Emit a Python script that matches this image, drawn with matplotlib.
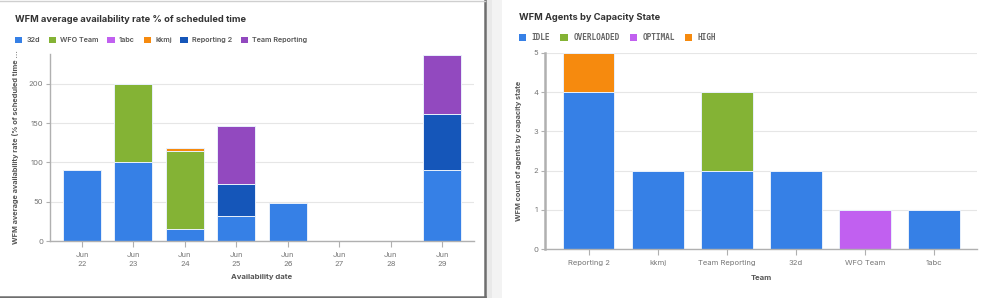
import matplotlib
matplotlib.use("Agg")
import matplotlib.pyplot as plt
import numpy as np
from matplotlib.patches import Rectangle, FancyBboxPatch
from matplotlib.lines import Line2D

plt.rcParams['font.family'] = ['Inter', 'DejaVu Sans']

# ---- Left chart data ----
dates = ["Jun\n22", "Jun\n23", "Jun\n24", "Jun\n25", "Jun\n26", "Jun\n27", "Jun\n28", "Jun\n29"]
series_32d = [90, 100, 15, 32, 49, 0, 0, 91]
series_wfo = [0, 100, 100, 0, 0, 0, 0, 0]
series_1abc = [0, 0, 0, 0, 0, 0, 0, 0]
series_kkmj = [0, 0, 4, 0, 0, 0, 0, 0]
series_rep2 = [0, 0, 0, 40, 0, 0, 0, 71]
series_teamrep = [0, 0, 0, 75, 0, 0, 0, 75]
left_names = ["32d", "WFO Team", "1abc", "kkmj", "Reporting 2", "Team Reporting"]
left_series = [series_32d, series_wfo, series_1abc, series_kkmj, series_rep2, series_teamrep]
left_colors = ["#3680e6", "#84b335", "#c160f0", "#f68a0e", "#1556b9", "#9249bf"]
left_yticks = [0, 50, 100, 150, 200]

# ---- Right chart data ----
teams = ["Reporting 2", "kkmj", "Team Reporting", "32d", "WFO Team", "1abc"]
idle = [4, 2, 2, 2, 0, 1]
overloaded = [0, 0, 2, 0, 0, 0]
optimal = [0, 0, 0, 0, 1, 0]
high = [1, 0, 0, 0, 0, 0]
right_names = ["IDLE", "OVERLOADED", "OPTIMAL", "HIGH"]
right_series = [idle, overloaded, optimal, high]
right_colors = ["#3680e6", "#84b335", "#c160f0", "#f68a0e"]
right_yticks = [0, 1, 2, 3, 4, 5]

W, H = 999, 298
fig = plt.figure(figsize=(W / 100, H / 100), dpi=100)
fig.patch.set_facecolor("white")

# background cards / separator
fig.patches.append(Rectangle((485 / W, 0), 20 / W, 1, transform=fig.transFigure,
                             facecolor="#e9e9e9", edgecolor="none", zorder=-3))
fig.patches.append(Rectangle((492 / W, 0), 10 / W, 1, transform=fig.transFigure,
                             facecolor="#f3f3f3", edgecolor="none", zorder=-3))
fig.patches.append(FancyBboxPatch((502 / W, -0.1), 520 / W, 1.2, transform=fig.transFigure,
                                  boxstyle="round,pad=0,rounding_size=0.01",
                                  facecolor="white", edgecolor="none", zorder=-2))
fig.add_artist(Line2D([484.5 / W, 484.5 / W], [0, 1], color="#6e6e6e", lw=1.8, zorder=1))
fig.add_artist(Line2D([0, 485 / W], [1.5 / H, 1.5 / H], color="#6e6e6e", lw=1.8, zorder=1))
fig.add_artist(Line2D([0, 485 / W], [1 - 0.5 / H, 1 - 0.5 / H], color="#cfcfcf", lw=1.0, zorder=1))

text_dark = "#333333"
text_mid = "#555555"
tick_col = "#777777"
axis_col = "#b0b0b0"
grid_col = "#e6e6e6"


def style_axes(ax, spine_lw):
    ax.set_facecolor("none")
    for s in ["top", "right"]:
        ax.spines[s].set_visible(False)
    ax.spines["left"].set_color(axis_col)
    ax.spines["left"].set_linewidth(spine_lw)
    ax.spines["bottom"].set_color(axis_col)
    ax.spines["bottom"].set_linewidth(1.0)
    ax.yaxis.grid(True, color=grid_col, lw=0.8)
    ax.set_axisbelow(True)
    ax.tick_params(axis="both", colors=axis_col, labelcolor=tick_col, labelsize=5.5,
                   length=3, width=0.8, pad=2)


# ---- Left axes ----
axL = fig.add_axes([50 / W, 1 - 241 / H, 424 / W, 187 / H])
x = np.arange(len(dates))
bottom = np.zeros(len(dates))
for name, vals, col in zip(left_names, left_series, left_colors):
    v = np.array(vals, dtype=float)
    axL.bar(x, v, bottom=bottom, width=0.74, color=col, edgecolor="#e8f0fb",
            linewidth=0.7, label=name)
    bottom += v
axL.set_xlim(-0.62, len(dates) - 1 + 0.62)
axL.set_ylim(0, 238)
axL.set_yticks(left_yticks)
axL.set_xticks(x)
axL.set_xticklabels(dates, linespacing=1.6)
style_axes(axL, 1.0)
axL.tick_params(axis="x", length=4, pad=4)
axL.set_xlabel("Availability date", fontsize=5.6, fontweight="bold", color=text_mid, labelpad=5)
axL.set_ylabel("WFM average availability rate (% of scheduled time ...", fontsize=5.3,
               fontweight="bold", color=text_mid, labelpad=7)

fig.text(15 / W, 1 - 20 / H, "WFM average availability rate % of scheduled time",
         fontsize=6.7, fontweight="bold", color=text_dark, va="center", ha="left")
hL, lL = axL.get_legend_handles_labels()
legL = fig.legend(hL, lL, loc="center left", bbox_to_anchor=(15 / W, 1 - 40 / H), ncol=6,
                  frameon=False, fontsize=5.2, handlelength=1.0, handleheight=1.0,
                  handletextpad=0.6, columnspacing=1.2, borderpad=0, borderaxespad=0)
for t in legL.get_texts():
    t.set_color(text_mid)
    t.set_fontweight("semibold")
for p in legL.get_patches():
    p.set_edgecolor("none")

# ---- Right axes ----
axR = fig.add_axes([545 / W, 1 - 249.3 / H, 432 / W, 196.6 / H])
xr = np.arange(len(teams))
bottom = np.zeros(len(teams))
for name, vals, col in zip(right_names, right_series, right_colors):
    v = np.array(vals, dtype=float)
    axR.bar(xr, v, bottom=bottom, width=0.75, color=col, edgecolor="#e8f0fb",
            linewidth=0.7, label=name)
    bottom += v
axR.set_xlim(-0.63, len(teams) - 1 + 0.62)
axR.set_ylim(0, 5)
axR.set_yticks(right_yticks)
axR.set_xticks(xr)
axR.set_xticklabels(teams)
style_axes(axR, 1.8)
axR.tick_params(axis="x", length=4, pad=4)
axR.set_xlabel("Team", fontsize=5.6, fontweight="bold", color=text_mid, labelpad=6)
axR.set_ylabel("WFM count of agents by capacity state", fontsize=5.3,
               fontweight="bold", color=text_mid, labelpad=8)

fig.text(519 / W, 1 - 17.5 / H, "WFM Agents by Capacity State",
         fontsize=6.7, fontweight="bold", color=text_dark, va="center", ha="left")
hR, lR = axR.get_legend_handles_labels()
legR = fig.legend(hR, lR, loc="center left", bbox_to_anchor=(519 / W, 1 - 37.5 / H), ncol=4,
                  frameon=False, handlelength=0.95, handleheight=0.95,
                  handletextpad=0.7, columnspacing=1.3, borderpad=0, borderaxespad=0,
                  prop={"family": "DejaVu Sans Mono", "size": 5.6, "weight": "bold"})
for t in legR.get_texts():
    t.set_color("#666666")
for p in legR.get_patches():
    p.set_edgecolor("none")

fig.savefig("out.png", dpi=100, facecolor="white")
